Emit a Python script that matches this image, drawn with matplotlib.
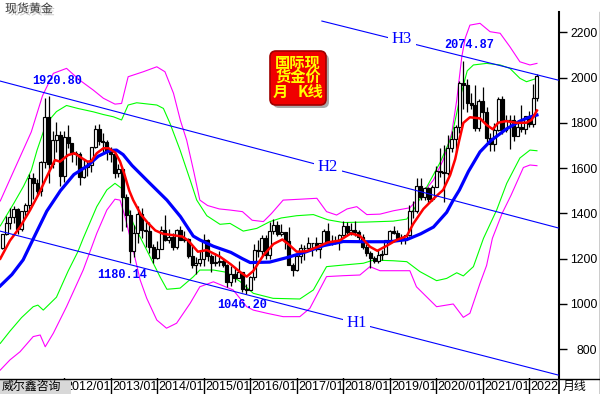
import numpy as np
import matplotlib

matplotlib.use('Agg')
import matplotlib.pyplot as plt
import matplotlib.patheffects as pe
from matplotlib.patches import Rectangle, FancyBboxPatch

plt.rcParams['font.family'] = ['Liberation Sans', 'Noto Sans CJK SC']

# month index, 0 = 2013/01 ; candles run 2010/09 .. 2022/03
months = np.arange(-28, 111)

opens = [1248, 1307, 1357, 1386,
         1421, 1332, 1409, 1439, 1556, 1536, 1500, 1628, 1826, 1620, 1723, 1746,
         1565, 1737, 1710, 1669, 1664, 1561, 1604, 1614, 1692, 1773, 1719, 1714,
         1675, 1663, 1578, 1597, 1472, 1393, 1234, 1312, 1396, 1327, 1323, 1253,
         1202, 1244, 1326, 1284, 1296, 1250, 1327, 1282, 1287, 1210, 1171, 1182,
         1199, 1284, 1213, 1183, 1184, 1190, 1172, 1095, 1133, 1115, 1142, 1065,
         1061, 1118, 1238, 1233, 1293, 1215, 1322, 1351, 1309, 1316, 1277, 1173,
         1152, 1211, 1249, 1249, 1268, 1269, 1242, 1269, 1322, 1280, 1271, 1275,
         1303, 1345, 1318, 1325, 1316, 1298, 1253, 1224, 1201, 1192, 1215, 1222,
         1282, 1321, 1313, 1292, 1284, 1305, 1409, 1413, 1520, 1472, 1513, 1464,
         1517, 1589, 1585, 1577, 1687, 1730, 1781, 1975, 1968, 1886, 1879, 1776,
         1895, 1847, 1734, 1708, 1769, 1906, 1770, 1814, 1814, 1743, 1783, 1774,
         1829, 1797, 1909]
highs = [1308, 1388, 1424, 1432,
         1424, 1411, 1447, 1576, 1577, 1553, 1632, 1912, 1921, 1766, 1803, 1764,
         1764, 1791, 1712, 1677, 1670, 1640, 1631, 1692, 1790, 1796, 1755, 1723,
         1694, 1676, 1617, 1604, 1488, 1417, 1348, 1434, 1425, 1362, 1361, 1267,
         1280, 1345, 1392, 1331, 1315, 1332, 1345, 1323, 1293, 1255, 1207, 1239,
         1308, 1286, 1220, 1224, 1232, 1205, 1175, 1170, 1157, 1191, 1143, 1088,
         1123, 1263, 1283, 1304, 1304, 1362, 1375, 1367, 1352, 1318, 1338, 1180,
         1220, 1264, 1262, 1296, 1271, 1296, 1270, 1331, 1357, 1306, 1299, 1307,
         1366, 1362, 1356, 1365, 1326, 1310, 1266, 1236, 1214, 1243, 1237, 1284,
         1326, 1346, 1325, 1310, 1306, 1439, 1453, 1555, 1557, 1517, 1516, 1526,
         1611, 1689, 1704, 1748, 1765, 1789, 1984, 2075, 1992, 1933, 1966, 1906,
         1959, 1872, 1755, 1798, 1913, 1917, 1833, 1834, 1834, 1814, 1877, 1830,
         1853, 1974, 2016]
lows = [1243, 1305, 1331, 1357,
        1309, 1324, 1383, 1417, 1462, 1478, 1478, 1601, 1534, 1601, 1671, 1523,
        1540, 1687, 1627, 1613, 1527, 1555, 1565, 1583, 1690, 1702, 1672, 1636,
        1626, 1555, 1562, 1321, 1338, 1180, 1207, 1271, 1290, 1251, 1226, 1182,
        1198, 1241, 1277, 1268, 1240, 1241, 1281, 1273, 1205, 1160, 1132, 1170,
        1167, 1191, 1142, 1170, 1169, 1162, 1077, 1080, 1098, 1113, 1053, 1046,
        1060, 1108, 1208, 1207, 1200, 1199, 1311, 1302, 1302, 1241, 1171, 1122,
        1146, 1180, 1194, 1240, 1214, 1236, 1205, 1267, 1272, 1261, 1264, 1237,
        1302, 1307, 1303, 1302, 1282, 1245, 1211, 1160, 1180, 1183, 1196, 1221,
        1276, 1311, 1281, 1266, 1266, 1301, 1382, 1400, 1459, 1459, 1446, 1454,
        1517, 1562, 1451, 1568, 1670, 1671, 1757, 1863, 1849, 1860, 1764, 1766,
        1803, 1717, 1677, 1678, 1765, 1750, 1761, 1684, 1722, 1740, 1759, 1753,
        1780, 1780, 1895]
closes = [1307, 1357, 1386, 1421,
          1332, 1409, 1439, 1556, 1536, 1500, 1628, 1826, 1620, 1723, 1746, 1565,
          1737, 1710, 1669, 1664, 1561, 1604, 1614, 1692, 1773, 1719, 1714, 1675,
          1663, 1578, 1597, 1472, 1393, 1234, 1312, 1396, 1327, 1323, 1253, 1202,
          1244, 1326, 1284, 1296, 1250, 1327, 1282, 1287, 1210, 1171, 1182, 1199,
          1284, 1213, 1183, 1184, 1190, 1172, 1095, 1133, 1115, 1142, 1065, 1061,
          1118, 1238, 1233, 1293, 1215, 1322, 1351, 1309, 1316, 1277, 1173, 1152,
          1211, 1249, 1249, 1268, 1269, 1242, 1269, 1322, 1280, 1271, 1275, 1303,
          1345, 1318, 1325, 1316, 1298, 1253, 1224, 1201, 1192, 1215, 1222, 1282,
          1321, 1313, 1292, 1284, 1305, 1409, 1413, 1520, 1472, 1513, 1464, 1517,
          1589, 1585, 1577, 1687, 1730, 1781, 1975, 1968, 1886, 1879, 1776, 1895,
          1847, 1734, 1708, 1769, 1906, 1770, 1814, 1814, 1743, 1783, 1774, 1829,
          1797, 1909, 2008]

# indicator lines (month index, price)
red_m = [-28.5, -26, -23.4, -20.8, -18.5, -16.5, -14.4, -13.1, -11, -9.3, -7.5, -6, -5, -3.6,
         -1.9, -0.5, 1.2, 2.4, 3.5, 4.8, 5.8, 6.7, 7.8, 9.5, 11.5, 13.5, 16.5, 18.5, 20,
         22.5, 24.8, 28.2, 31, 33.5, 35.1, 36.8, 39.4, 42, 44.3, 46, 48, 50.5, 53.5, 56,
         59, 62, 64.3, 66.9, 68.8, 71.2, 73.8, 76.4, 78.1, 80.7, 83.3, 85.8, 87.6, 88.9,
         89.9, 91, 92.7, 95.3, 97, 98.6, 100, 102.1, 104.8, 107.3, 108.6, 110]
red_v = [1200, 1280, 1340, 1415, 1489, 1562, 1636, 1629, 1658, 1666, 1645, 1629, 1631, 1666,
         1688, 1688, 1668, 1630, 1575, 1500, 1459, 1430, 1395, 1360, 1325, 1310, 1303, 1298,
         1280, 1231, 1238, 1209, 1175, 1140, 1121, 1146, 1215, 1265, 1285, 1262, 1231, 1233,
         1253, 1272, 1280, 1312, 1301, 1253, 1235, 1257, 1283, 1300, 1355, 1420, 1465, 1504,
         1570, 1640, 1720, 1800, 1825, 1820, 1791, 1772, 1801, 1808, 1800, 1801, 1813, 1855]

blue_m = [-28.5, -25.5, -22.6, -19.5, -16.5, -13, -9.5, -6, -3.2, -0.2, 1.5, 3.2, 5.5, 10,
          14.5, 18, 21.3, 23, 26.5, 31, 34, 36, 41, 45.5, 50.5, 55, 60, 66, 72, 76.5, 80,
          83.3, 86.7, 88.4, 90, 92.3, 95.3, 98, 102, 105.6, 108, 110]
blue_v = [1080, 1130, 1195, 1305, 1410, 1500, 1572, 1610, 1653, 1678, 1680, 1660, 1612, 1535,
          1459, 1386, 1300, 1283, 1255, 1228, 1200, 1183, 1185, 1205, 1231, 1258, 1276, 1275,
          1275, 1285, 1310, 1340, 1405, 1459, 1504, 1585, 1672, 1720, 1772, 1808, 1825, 1835]

green_up_m = [-28.5, -25, -22.5, -20.5, -19, -17.4, -15.5, -14, -11.4, -8.5, -4.5, -1.9, 0.7,
              2.8, 4.5, 6.7, 11.9, 13.6, 15.3, 17.9, 20.5, 22.2, 24.8, 28.2, 30.8, 34.2, 37.7,
              41.1, 44, 48, 52.3, 56, 60, 66, 72.9, 76.4, 78.3, 81.5, 85, 88, 90, 92, 93.6,
              97, 100.5, 103, 105.6, 107.3, 110]
green_up_v = [1345, 1445, 1520, 1590, 1680, 1760, 1820, 1850, 1877, 1864, 1849, 1837, 1827,
              1813, 1879, 1889, 1879, 1864, 1798, 1680, 1548, 1459, 1390, 1352, 1356, 1322,
              1334, 1364, 1380, 1390, 1395, 1372, 1360, 1362, 1366, 1375, 1420, 1515, 1625,
              1740, 1900, 2030, 2056, 2063, 2056, 2041, 1997, 1982, 1997]

green_lo_m = [-28.5, -26, -23, -20, -18.8, -17.4, -14, -11, -8.5, -7.1, -3.6, -1, 1.1, 2.8,
              4.1, 5.8, 9.3, 12.7, 14.5, 17.9, 21.3, 23, 26.5, 29.9, 33.4, 36.8, 41.9, 48.8,
              52.3, 55.7, 60, 65.2, 67.8, 72.9, 76.4, 79.8, 84.1, 86.7, 89.3, 91, 93.6, 96.2,
              99.6, 102.2, 105.6, 108.2, 110]
green_lo_v = [826, 880, 940, 988, 995, 973, 1030, 1145, 1230, 1290, 1430, 1504, 1533, 1511,
              1445, 1356, 1238, 1121, 1065, 1070, 1120, 1150, 1150, 1140, 1099, 1047, 1025,
              1022, 1062, 1165, 1172, 1180, 1194, 1191, 1187, 1143, 1103, 1113, 1138, 1124,
              1165, 1290, 1415, 1533, 1645, 1680, 1677]

mag_up_m = [-28.5, -25.1, -22.6, -20.5, -17.6, -14.8, -11.4, -8, -4.5, -1.9, 1.1, 2.8, 4.5,
            8.4, 11.9, 14, 16.2, 18, 19.6, 21.5, 23, 25, 28, 30.8, 34, 36.5, 39.4, 41.5, 44.5,
            49, 53.2, 55.7, 58.3, 61, 63.5, 66.1, 69.5, 73, 77.2, 79.8, 83.3, 85.8, 88, 89.3,
            90.6, 91.5, 92.7, 95.3, 97.9, 100.5, 103, 105.6, 108.2, 110]
mag_up_v = [1455, 1585, 1680, 1760, 1920, 2019, 2041, 1989, 1945, 1909, 1883, 1886, 2004,
            2026, 2048, 2026, 1931, 1810, 1724, 1580, 1459, 1435, 1420, 1415, 1408, 1370,
            1364, 1400, 1459, 1463, 1467, 1408, 1393, 1420, 1430, 1395, 1397, 1412, 1425,
            1474, 1548, 1636, 1754, 1901, 2092, 2175, 2232, 2240, 2203, 2196, 2137, 2070,
            2056, 2063]

mag_lo_m = [-28.5, -26, -23.4, -20, -18.2, -16.9, -14.8, -11.4, -7.1, -3.6, -1, 1.1, 2.4, 3.7,
            5.8, 7.6, 9.3, 11.9, 14.4, 17, 20.5, 23, 26.5, 31.6, 35.1, 36.8, 40.3, 44.5, 48.8,
            51.4, 55.7, 60, 64.3, 66.9, 69.5, 77.2, 78.9, 84.1, 88.4, 91, 92.7, 95.3, 97,
            98.5, 101, 103.3, 106.5, 108.2, 110]
mag_lo_v = [708, 753, 789, 856, 863, 811, 871, 988, 1150, 1312, 1415, 1463, 1459, 1386, 1238,
            1106, 1025, 929, 893, 915, 1003, 1076, 1098, 1062, 988, 973, 959, 944, 944, 981,
            1121, 1125, 1128, 1165, 1147, 1147, 1076, 988, 1000, 941, 959, 1091, 1170, 1290,
            1400, 1480, 1603, 1614, 1611]

# trend channel lines (month, price) end points
h1_m, h1_v = [-28.57, 115.5], [1322, 686]
h2_m, h2_v = [-28.57, 115.5], [1985, 1336]
h3_m, h3_v = [54.5, 115.5], [2250, 1989]

year_m = [-12, 0, 12, 24, 36, 48, 60, 72, 84, 96, 108]
# last label is cut by the price axis in the original, only "2022" shows
year_labels = ['2012/01', '2013/01', '2014/01', '2015/01', '2016/01', '2017/01',
               '2018/01', '2019/01', '2020/01', '2021/01', '2022']
price_ticks = [800, 1000, 1200, 1400, 1600, 1800, 2000, 2200]

W, H = 600, 394
fig = plt.figure(figsize=(6, 3.94), dpi=100)
fig.patch.set_facecolor('white')
ax = fig.add_axes([0, 16 / H, 558.5 / W, 366 / H])
ax.set_xlim(-28.57, 115.56)
ax.set_ylim(673, 2290)
for s in ['top', 'left', 'bottom']:
    ax.spines[s].set_visible(False)
ax.spines['right'].set_linewidth(1.5)
ax.set_xticks([])
ax.yaxis.tick_right()
ax.set_yticks(price_ticks)
ax.tick_params(axis='y', length=6, width=1, pad=22, labelsize=8.8)
for lbl in ax.get_yticklabels():
    lbl.set_horizontalalignment('right')

# bollinger style bands
ax.plot(mag_up_m, mag_up_v, color='#ff00ff', lw=0.8, zorder=2)
ax.plot(mag_lo_m, mag_lo_v, color='#ff00ff', lw=0.8, zorder=2)
ax.plot(green_up_m, green_up_v, color='#00ff00', lw=0.8, zorder=2)
ax.plot(green_lo_m, green_lo_v, color='#00ff00', lw=0.8, zorder=2)

# candles
o = np.array(opens)
c = np.array(closes)
up = c >= o
ax.vlines(months, lows, highs, color='black', lw=0.9, zorder=3)
ax.bar(months, np.abs(c - o), bottom=np.minimum(o, c), width=0.76,
       color=np.where(up, 'white', 'black'), edgecolor='black', linewidth=0.85, zorder=4)

# moving averages
ax.plot(blue_m, blue_v, color='#0000ff', lw=2.3, zorder=5)
ax.plot(red_m, red_v, color='#ff0000', lw=1.8, zorder=5)

# channel lines
for lm, lv in [(h1_m, h1_v), (h2_m, h2_v), (h3_m, h3_v)]:
    ax.plot(lm, lv, color='#0000ff', lw=0.8, zorder=6)
for txt, xm, yv in [('H1', 63.5, 916), ('H2', 56.1, 1605), ('H3', 75.2, 2170)]:
    ax.text(xm, yv, txt, color='#0000ff', fontsize=12, family='Liberation Serif',
            ha='center', va='center', zorder=7,
            bbox=dict(facecolor='white', edgecolor='none', pad=2.5))

for txt, xm, yv in [('1920.80', -13.9, 1984), ('2074.87', 92.5, 2146),
                    ('1180.14', 3.05, 1129), ('1046.20', 34, 996)]:
    ax.text(xm, yv, txt, color='#0000ff', fontsize=8.6, family='Liberation Mono',
            fontweight='bold', ha='center', va='center', zorder=7)

# bottom date strip
axs = fig.add_axes([0, 0, 558.5 / W, 16 / H])
axs.set_xlim(-28.57, 115.56)
axs.set_ylim(0, 1)
axs.axis('off')
for xm, lab in zip(year_m, year_labels):
    axs.axvline(xm, color='black', lw=1)
    axs.text(xm + 0.3, 0.45, lab, fontsize=9, ha='left', va='center', clip_on=True)

# frame, title and badge in pixel coordinates
ov = fig.add_axes([0, 0, 1, 1], facecolor='none')
ov.set_xlim(0, W)
ov.set_ylim(H, 0)
ov.axis('off')
ov.plot([0, W], [378.5, 378.5], color='black', lw=1)
ov.plot([558.5, 558.5], [378, H], color='black', lw=1.2)
ov.plot([599.5, 599.5], [12, H], color='black', lw=1)
ov.add_patch(Rectangle((0, 379.5), 71, 14.5, facecolor='#d8d8d8', edgecolor='none'))
ov.text(2, 386.5, '威尔鑫咨询', fontsize=8.6, ha='left', va='center', color='black')
ov.text(563, 386.5, '月线', fontsize=8.6, ha='left', va='center', color='black')
ov.text(5, 9.5, '现货黄金', fontsize=8.6, ha='left', va='center', color='#3a3a3a',
        path_effects=[pe.SimplePatchShadow(offset=(1.5, -1.5), shadow_rgbFace='#888888',
                                           alpha=0.5), pe.Normal()])

ov.add_patch(FancyBboxPatch((273, 54), 56, 54, boxstyle='round,pad=0,rounding_size=6',
                            facecolor='#707070', edgecolor='none', alpha=0.6))
ov.add_patch(FancyBboxPatch((270, 51), 56, 54, boxstyle='round,pad=0,rounding_size=6',
                            facecolor='#f00000', edgecolor='#a00000', lw=1.2))
badge_font = dict(fontsize=11, family='Noto Sans CJK SC', fontweight='bold',
                  color='#ffff00', va='center')
ov.text(298, 62.5, '国际现', ha='center', **badge_font)
ov.text(298, 77, '货金价', ha='center', **badge_font)
ov.text(273, 91.5, '月', ha='left', **badge_font)
ov.text(323, 91.5, 'K线', ha='right', **badge_font)

fig.savefig('out.png', dpi=100)
